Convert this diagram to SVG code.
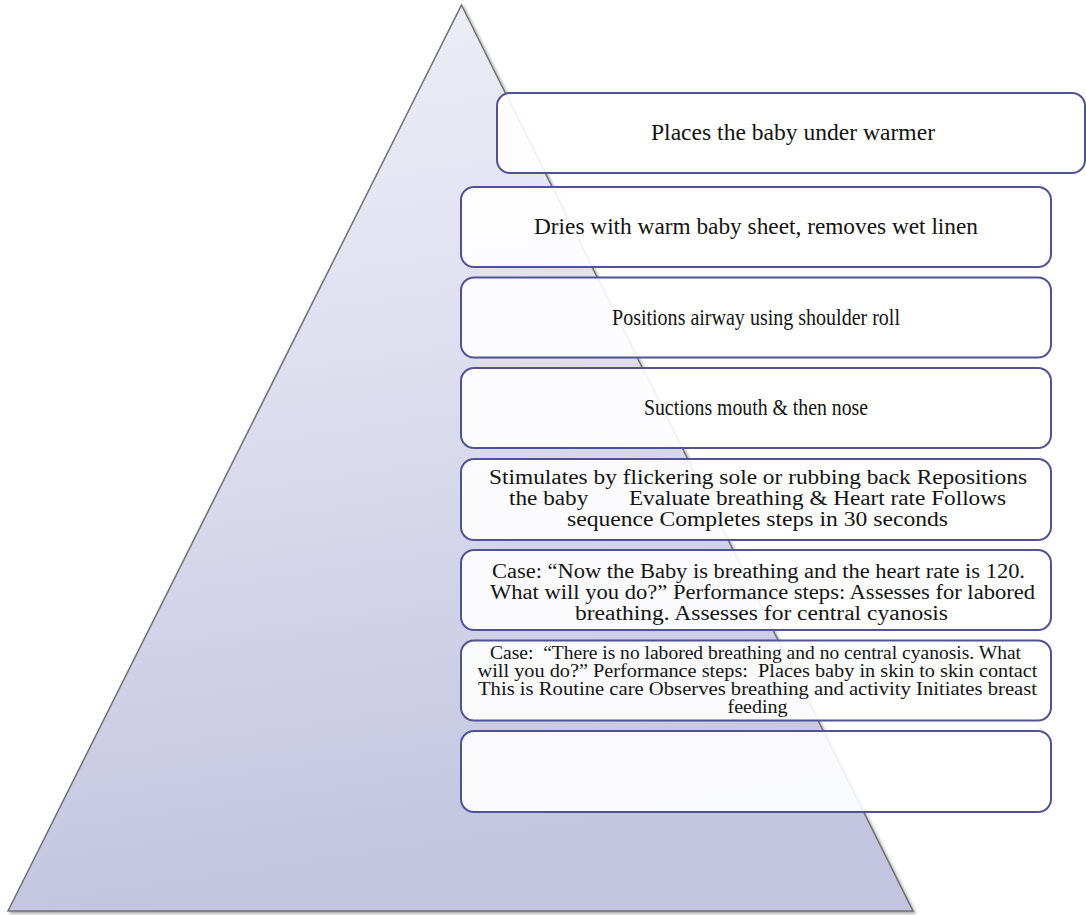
<svg xmlns="http://www.w3.org/2000/svg" width="1086" height="915" viewBox="0 0 1086 915">
  <style>
    .box { fill: #ffffff; fill-opacity: 0.9; stroke: #4f5393; stroke-width: 2; }
    .t { font-family: "Liberation Serif", "DejaVu Serif", serif; font-size: 23px; fill: #141414; text-anchor: middle; }
    .m { font-size: 20px; }
    .s { font-size: 18px; }
  </style>
  <defs>
    <linearGradient id="triGrad" x1="0" y1="0" x2="0.15" y2="1">
      <stop offset="0" stop-color="#efeff8"/>
      <stop offset="0.5" stop-color="#dcdcee"/>
      <stop offset="1" stop-color="#c3c5e0"/>
    </linearGradient>
    <filter id="shadow" x="-5%" y="-5%" width="110%" height="110%">
      <feGaussianBlur in="SourceAlpha" stdDeviation="1.5"/>
      <feOffset dx="1.5" dy="2" result="b"/>
      <feComponentTransfer><feFuncA type="linear" slope="0.35"/></feComponentTransfer>
      <feMerge><feMergeNode/><feMergeNode in="SourceGraphic"/></feMerge>
    </filter>
  </defs>

  <g id="pyramid">
    <polygon points="461.5,5 913,911 8,911" fill="url(#triGrad)" stroke="#707070" stroke-width="1.5" filter="url(#shadow)"/>
  </g>

  <g id="connectors"></g>

  <g id="node1">
    <rect class="box" x="497" y="93" width="588" height="80" rx="13"/>
    <text class="t" x="793" y="140" textLength="284" lengthAdjust="spacingAndGlyphs">Places the baby under warmer</text>
  </g>

  <g id="node2">
    <rect class="box" x="461" y="187" width="590" height="80" rx="13"/>
    <text class="t" x="756" y="234" textLength="444" lengthAdjust="spacingAndGlyphs">Dries with warm baby sheet, removes wet linen</text>
  </g>

  <g id="node3">
    <rect class="box" x="461" y="277.5" width="590" height="80" rx="13"/>
    <text class="t" x="756" y="324.5" textLength="288" lengthAdjust="spacingAndGlyphs">Positions airway using shoulder roll</text>
  </g>

  <g id="node4">
    <rect class="box" x="461" y="368" width="590" height="80" rx="13"/>
    <text class="t" x="756" y="415" textLength="224" lengthAdjust="spacingAndGlyphs">Suctions mouth &amp; then nose</text>
  </g>

  <g id="node5">
    <rect class="box" x="461" y="459" width="590" height="81" rx="13"/>
    <text class="t m" x="758" y="484" textLength="538" lengthAdjust="spacingAndGlyphs">Stimulates by flickering sole or rubbing back Repositions</text>
    <text class="t m" x="757.5" y="505" textLength="497" lengthAdjust="spacingAndGlyphs" xml:space="preserve">the baby       Evaluate breathing &amp; Heart rate Follows</text>
    <text class="t m" x="757.5" y="526" textLength="381" lengthAdjust="spacingAndGlyphs">sequence Completes steps in 30 seconds</text>
  </g>

  <g id="node6">
    <rect class="box" x="461" y="550" width="590" height="80" rx="13"/>
    <text class="t m" x="758.5" y="578" textLength="533" lengthAdjust="spacingAndGlyphs">Case: “Now the Baby is breathing and the heart rate is 120.</text>
    <text class="t m" x="762.5" y="599" textLength="545" lengthAdjust="spacingAndGlyphs">What will you do?” Performance steps: Assesses for labored</text>
    <text class="t m" x="761.5" y="620" textLength="373" lengthAdjust="spacingAndGlyphs">breathing. Assesses for central cyanosis</text>
  </g>

  <g id="node7">
    <rect class="box" x="461" y="640.5" width="590" height="80" rx="13"/>
    <text class="t s" x="755.5" y="659" textLength="531" lengthAdjust="spacingAndGlyphs" xml:space="preserve">Case:  “There is no labored breathing and no central cyanosis. What</text>
    <text class="t s" x="757.5" y="677" textLength="560" lengthAdjust="spacingAndGlyphs" xml:space="preserve">will you do?” Performance steps:  Places baby in skin to skin contact</text>
    <text class="t s" x="757.5" y="695" textLength="559" lengthAdjust="spacingAndGlyphs">This is Routine care Observes breathing and activity Initiates breast</text>
    <text class="t s" x="757.5" y="713" textLength="60" lengthAdjust="spacingAndGlyphs">feeding</text>
  </g>

  <g id="node8">
    <rect class="box" x="461" y="731" width="590" height="81" rx="13"/>
  </g>
</svg>
